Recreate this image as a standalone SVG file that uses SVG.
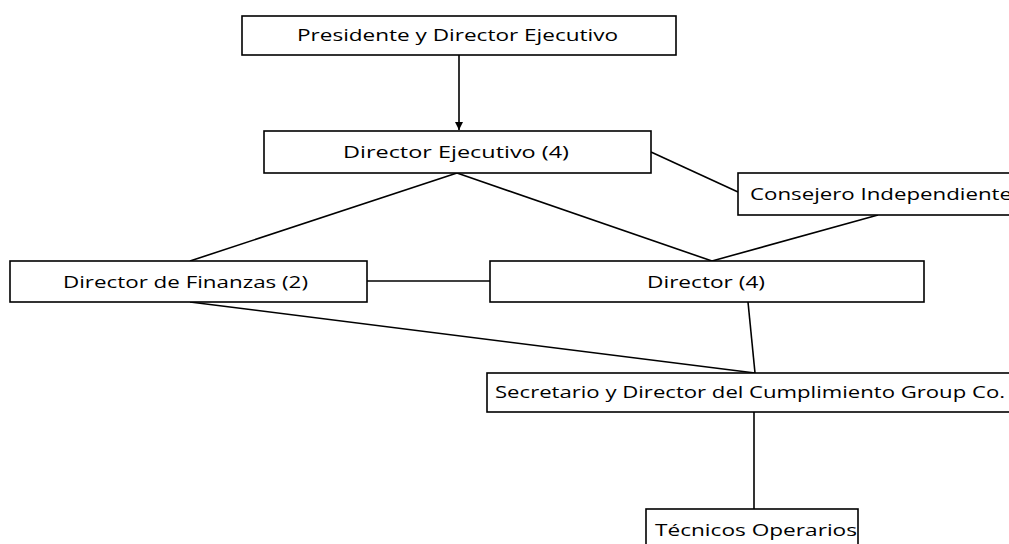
<svg xmlns="http://www.w3.org/2000/svg" width="1009" height="544" viewBox="0 0 1009 544">
<style>
.box{fill:#fff;stroke:#000;stroke-width:1.6}
.t{font-family:"Open Sans","Noto Sans","Liberation Sans",sans-serif;font-size:17px;fill:#000}
.c{stroke:#000;stroke-width:1.6;fill:none}
</style>
<defs>
<marker id="ah" viewBox="0 0 10 10" refX="10" refY="5" markerWidth="9" markerHeight="8" orient="auto" markerUnits="userSpaceOnUse">
<path d="M0,0 L10,5 L0,10 z" fill="#000"/>
</marker>
</defs>
<rect width="1009" height="544" fill="#fff"/>
<g id="connectors">
<line class="c" x1="459" y1="55" x2="459" y2="130" marker-end="url(#ah)"/>
<line class="c" x1="651" y1="152" x2="738" y2="192"/>
<line class="c" x1="878" y1="215" x2="712" y2="261"/>
<line class="c" x1="457" y1="173" x2="190" y2="261"/>
<line class="c" x1="457" y1="173" x2="712" y2="261"/>
<line class="c" x1="367" y1="281" x2="490" y2="281"/>
<line class="c" x1="190" y1="302" x2="755" y2="373"/>
<line class="c" x1="748" y1="302" x2="755" y2="373"/>
<line class="c" x1="754" y1="412" x2="754" y2="509"/>
</g>
<g id="n1"><rect class="box" x="242" y="16" width="434" height="39"/><text class="t" x="297" y="41" textLength="321" lengthAdjust="spacingAndGlyphs">Presidente y Director Ejecutivo</text></g>
<g id="n2"><rect class="box" x="264" y="131" width="387" height="42"/><text class="t" x="343" y="158" textLength="226" lengthAdjust="spacingAndGlyphs">Director  Ejecutivo (4)</text></g>
<g id="n3"><rect class="box" x="738" y="173" width="290" height="42"/><text class="t" x="750" y="200" textLength="262" lengthAdjust="spacingAndGlyphs">Consejero Independiente</text></g>
<g id="n4"><rect class="box" x="10" y="261" width="357" height="41"/><text class="t" x="63" y="288" textLength="245" lengthAdjust="spacingAndGlyphs">Director de Finanzas (2)</text></g>
<g id="n5"><rect class="box" x="490" y="261" width="434" height="41"/><text class="t" x="647" y="288" textLength="118" lengthAdjust="spacingAndGlyphs">Director (4)</text></g>
<g id="n6"><rect class="box" x="487" y="373" width="530" height="39"/><text class="t" x="495" y="398" textLength="510" lengthAdjust="spacingAndGlyphs">Secretario y Director del Cumplimiento Group Co.</text></g>
<g id="n7"><rect class="box" x="646" y="509" width="212" height="45"/><text class="t" x="655" y="536" textLength="202" lengthAdjust="spacingAndGlyphs">Técnicos Operarios</text></g>
</svg>
